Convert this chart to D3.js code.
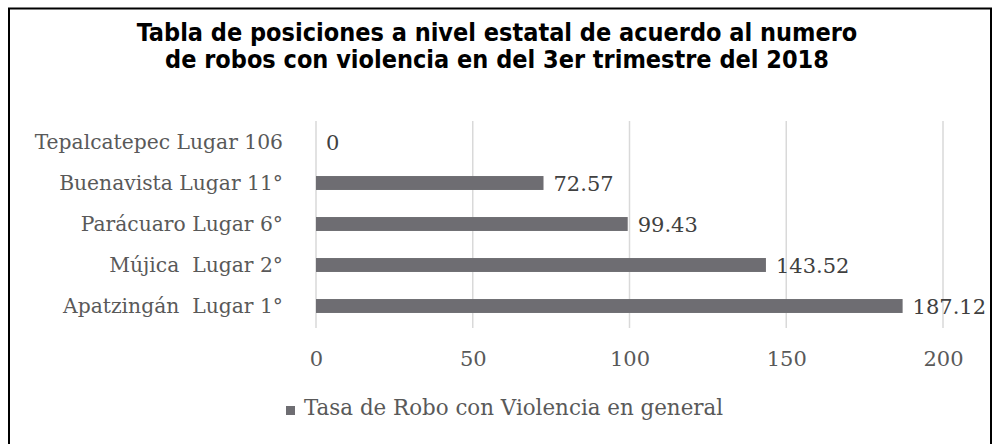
<!DOCTYPE html>
<html>
<head>
<meta charset="utf-8">
<script src="https://cdn.jsdelivr.net/npm/d3@7"></script>
<style>
  body { margin: 0; background: #fff; }
  text { white-space: pre; }
</style>
</head>
<body>
<div id="chart"></div>
<script>
let w = 995;
let h = 444;

// data
let categories = ["Tepalcatepec Lugar 106", "Buenavista Lugar 11°", "Parácuaro Lugar 6°", "Mújica  Lugar 2°", "Apatzingán  Lugar 1°"];
let values = [0, 72.57, 99.43, 143.52, 187.12];
let ticks = [0, 50, 100, 150, 200];
let titleLines = ["Tabla de posiciones a nivel estatal de acuerdo al numero", "de robos con violencia en del 3er trimestre del 2018"];
let legendLabel = "Tasa de Robo con Violencia en general";

let serif = "'DejaVu Serif', serif";
let barColor = "#6e6d72";

let viz = d3.select("#chart")
  .append("svg")
    .attr("width", w)
    .attr("height", h);

// frame
viz.append("rect")
  .attr("x", 9)
  .attr("y", 8.5)
  .attr("width", 982)
  .attr("height", 450)
  .attr("fill", "none")
  .attr("stroke", "#000")
  .attr("stroke-width", 2);

// title
viz.selectAll(".title").data(titleLines)
  .enter()
  .append("text")
    .attr("class", "title")
    .attr("x", 497)
    .attr("y", function(d, i){ return 41 + i * 27; })
    .attr("text-anchor", "middle")
    .attr("font-family", "'DejaVu Sans Condensed', 'DejaVu Sans', sans-serif")
    .attr("font-stretch", "condensed")
    .attr("font-weight", "bold")
    .attr("font-size", 25)
    .attr("fill", "#000")
    .text(function(d){ return d; });

let x = d3.scaleLinear().domain([0, 200]).range([316, 943]);
let y = d3.scaleBand().domain(categories).range([121.5, 326.5]).paddingInner(0.66).paddingOuter(0.33);

// gridlines
viz.selectAll(".grid").data(ticks)
  .enter()
  .append("line")
    .attr("class", "grid")
    .attr("x1", function(d){ return x(d); })
    .attr("x2", function(d){ return x(d); })
    .attr("y1", 121)
    .attr("y2", 328)
    .attr("stroke", "#d9d9d9")
    .attr("stroke-width", 1.5);

// bars
viz.selectAll(".bar").data(values)
  .enter()
  .append("rect")
    .attr("class", "bar")
    .attr("x", x(0))
    .attr("y", function(d, i){ return y(categories[i]); })
    .attr("width", function(d){ return x(d) - x(0); })
    .attr("height", y.bandwidth())
    .attr("fill", barColor);

// value labels
viz.selectAll(".val").data(values)
  .enter()
  .append("text")
    .attr("class", "val")
    .attr("x", function(d){ return x(d) + 10; })
    .attr("y", function(d, i){ return y(categories[i]) + y.bandwidth() / 2; })
    .attr("dy", "0.36em")
    .attr("font-family", serif)
    .attr("font-size", 21)
    .attr("fill", "#404040")
    .text(function(d){ return d; });

// category axis
let yAxis = viz.append("g")
  .attr("transform", "translate(" + (x(0) - 33) + ",0)")
  .call(d3.axisLeft(y).tickSize(0).tickPadding(0));
yAxis.select(".domain").remove();
yAxis.selectAll("text")
  .attr("font-family", serif)
  .attr("font-size", 20.3)
  .attr("fill", "#595959");

// value axis
let xAxis = viz.append("g")
  .attr("transform", "translate(0,351)")
  .call(d3.axisBottom(x).tickValues(ticks).tickSize(0).tickPadding(0));
xAxis.select(".domain").remove();
xAxis.selectAll("text")
  .attr("font-family", serif)
  .attr("font-size", 21)
  .attr("fill", "#595959");

// legend
viz.append("rect")
  .attr("x", 286)
  .attr("y", 406)
  .attr("width", 9)
  .attr("height", 9)
  .attr("fill", barColor);

viz.append("text")
  .attr("x", 304)
  .attr("y", 415)
  .attr("font-family", serif)
  .attr("font-size", 21.4)
  .attr("fill", "#595959")
  .text(legendLabel);
</script>
</body>
</html>
